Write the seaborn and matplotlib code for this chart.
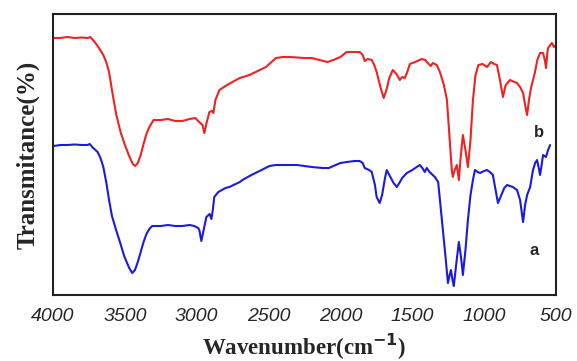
import numpy as np
import pandas as pd
import matplotlib.pyplot as plt
import seaborn as sns

# FTIR spectra (wavenumber in cm-1, transmittance in arbitrary units)
wn_b = [3995, 3950, 3900, 3850, 3800, 3760, 3740, 3710, 3680, 3650, 3630, 3610, 3590, 3561,
        3530, 3500, 3470, 3445, 3428, 3410, 3390, 3370, 3350, 3330, 3300, 3250, 3200, 3150,
        3100, 3050, 3010, 2990, 2960, 2947, 2935, 2912, 2895, 2884, 2870, 2856, 2842, 2800,
        2752, 2700, 2633, 2518, 2449, 2400, 2354, 2300, 2250, 2200, 2145, 2090, 2050, 2000,
        1957, 1900, 1866, 1845, 1831, 1810, 1782, 1765, 1748, 1720, 1699, 1680, 1660, 1636,
        1610, 1587, 1570, 1552, 1535, 1517, 1480, 1434, 1410, 1399, 1371, 1357, 1330, 1308,
        1280, 1259, 1240, 1225, 1218, 1205, 1190, 1176, 1165, 1148, 1130, 1113, 1095, 1078,
        1060, 1040, 1010, 980, 953, 930, 911, 890, 869, 850, 820, 790, 771, 750, 729, 715,
        701, 688, 674, 660, 646, 630, 611, 590, 578, 569, 560, 555, 540, 528, 514, 505]
t_b = [262, 262, 263, 262, 262.5, 262, 263, 258, 252, 245, 238, 228, 210, 186,
       168, 155, 144, 136, 134, 137, 145, 156, 166, 173, 180, 180, 181, 179,
       179, 181, 182, 179, 175, 167, 175, 188, 189, 187, 200, 205, 210, 214,
       218, 222, 225, 233, 242, 243, 243, 242.5, 242, 242, 240, 238, 240, 243,
       248, 248, 248, 245, 239, 241, 240, 235, 228, 212, 202, 210, 222, 230,
       226, 220, 223, 222, 228, 236, 238, 241, 240, 238, 234, 237, 235, 228,
       215, 200, 160, 130, 123, 130, 135, 120, 140, 165, 150, 133, 160, 200,
       225, 235, 236, 233, 238, 236, 235, 220, 203, 215, 220, 218, 217, 213, 207, 195,
       185, 200, 212, 220, 228, 240, 247, 247, 240, 232, 248, 252, 255, 257, 253, 254]

wn_a = [3995, 3950, 3900, 3850, 3800, 3760, 3745, 3720, 3690, 3670, 3650, 3630, 3610, 3590,
        3561, 3530, 3505, 3470, 3449, 3430, 3410, 3390, 3370, 3350, 3330, 3310, 3280, 3250,
        3200, 3150, 3100, 3050, 3017, 2990, 2982, 2968, 2955, 2933, 2910, 2898, 2888, 2878,
        2850, 2800, 2773, 2700, 2682, 2620, 2563, 2494, 2450, 2400, 2354, 2300, 2250, 2200,
        2124, 2080, 2050, 2000, 1957, 1900, 1866, 1845, 1831, 1800, 1782, 1760, 1748, 1727,
        1710, 1690, 1678, 1660, 1630, 1608, 1590, 1570, 1538, 1500, 1469, 1448, 1430, 1413,
        1399, 1380, 1343, 1320, 1294, 1270, 1252, 1240, 1231, 1220, 1211, 1195, 1176, 1160,
        1148, 1130, 1113, 1095, 1078, 1064, 1045, 1029, 1000, 980, 960, 939, 920, 904, 880,
        860, 841, 800, 771, 750, 729, 715, 701, 680, 660, 645, 632, 620, 611, 600, 590, 570,
        555, 541]
t_a = [154, 155, 155, 155.5, 155, 155, 156, 152, 148, 142, 133, 118, 100, 84,
       70, 56, 44, 32, 27, 30, 38, 48, 58, 66, 71, 74, 74, 74,
       75, 74, 74, 75, 74, 72, 70, 59, 68, 83, 86, 81, 90, 103,
       108, 112, 113, 118, 120, 125, 129, 134, 135, 135, 135, 135, 134, 133,
       132, 132, 134, 137, 138, 139, 139, 137, 132, 130, 128, 115, 103, 97,
       105, 122, 130, 125, 117, 113, 117, 122, 127, 130, 133, 135, 132, 128,
       132, 128, 123, 118, 80, 45, 17, 25, 30, 20, 14, 35, 58, 42,
       25, 50, 80, 105, 120, 130, 128, 127, 129, 130, 128, 125, 110, 97, 105,
       112, 115, 113, 110, 100, 78, 95, 105, 113, 130, 137, 140, 132, 125, 135, 145, 143,
       150, 155]

df = pd.concat([
    pd.DataFrame({'wn': wn_a, 'T': t_a, 'sample': 'a'}),
    pd.DataFrame({'wn': wn_b, 'T': t_b, 'sample': 'b'}),
])

sns.set_style('white')
fig = plt.figure(figsize=(5.77, 3.61), dpi=100)
ax = fig.add_axes([0.0919, 0.1828, 0.8717, 0.7784])

sns.lineplot(data=df, x='wn', y='T', hue='sample', palette={'a': '#1a1ae0', 'b': '#ee2222'},
             estimator=None, sort=False, linewidth=1.5, legend=False, ax=ax)
for ln in ax.get_lines():
    ln.set_solid_joinstyle('round')

ax.set_xlim(4000, 500)
ax.set_ylim(5, 286)
ax.set_xticks([4000, 3500, 3000, 2500, 2000, 1500, 1000, 500])
ax.set_yticks([])
ax.tick_params(axis='x', length=0, pad=9)
for lbl in ax.get_xticklabels():
    lbl.set_fontfamily('Liberation Sans')
    lbl.set_fontstyle('italic')
    lbl.set_fontsize(14)
for sp in ax.spines.values():
    sp.set_color('#222222')
    sp.set_linewidth(1.5)

ax.set_xlabel('Wavenumber(cm$^{\\mathbf{-1}}$)', fontfamily='Liberation Serif',
              fontweight='bold', fontsize=16.5, labelpad=5)
ax.set_ylabel('Transmitance(%)', fontfamily='Liberation Serif', fontweight='bold',
              fontsize=18, labelpad=10)

ax.text(615, 168, 'b', fontfamily='Liberation Sans', fontweight='bold', fontsize=12,
        ha='center', va='center')
ax.text(650, 50, 'a', fontfamily='Liberation Sans', fontweight='bold', fontsize=12,
        ha='center', va='center')

fig.savefig('out.png', dpi=100)
